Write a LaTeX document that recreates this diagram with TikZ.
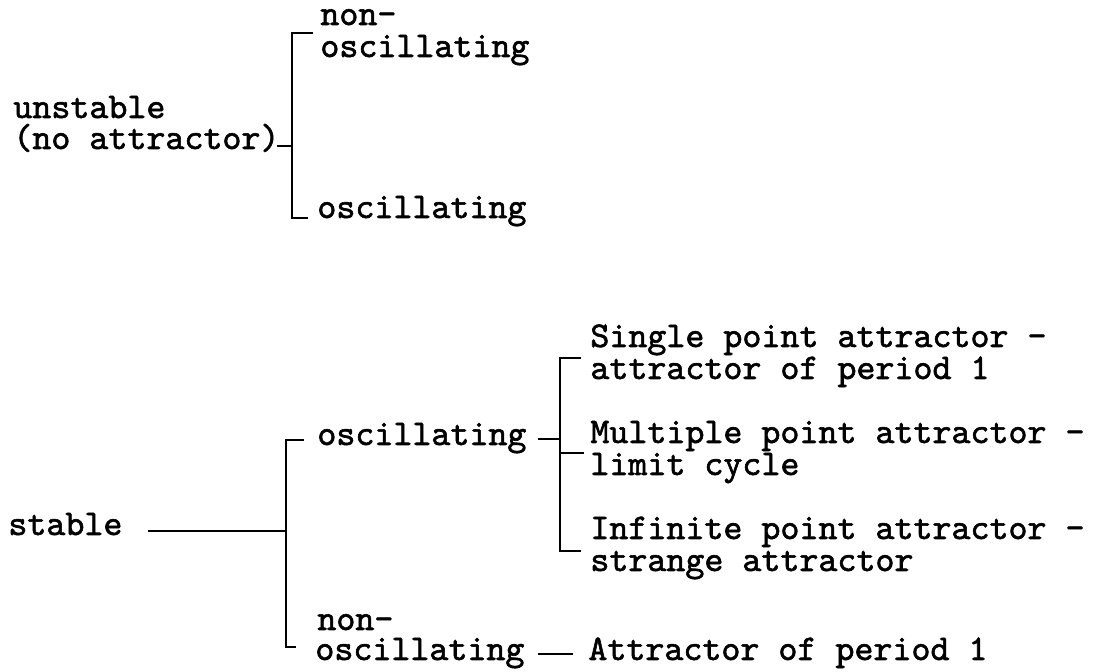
\documentclass[tikz,border=0pt]{standalone}
\usepackage{fontspec}
\newfontfamily\typewriter{lmmono10-regular.otf}[FakeBold=1.6]
\newcommand\twfont{\typewriter\fontsize{18.1}{18}\selectfont}
\usetikzlibrary{calc}
\begin{document}
\begin{tikzpicture}[x=0.5pt,y=-0.5pt,
  txt/.style={anchor=base west,inner sep=0pt,font=\twfont},
  ln/.style={line width=1.3pt,line cap=rect}]
\useasboundingbox (0,0) rectangle (1094,672);
% --- unstable branch
\node[txt] (u1) at (13,118) {unstable};
\node[txt] (u2) at (13,149) {(no attractor)};
\node[txt] (n1a) at (320,25) {non-};
\node[txt] (n1b) at (320,57) {oscillating};
\node[txt] (o1) at (317,218) {oscillating};
\coordinate (b1t) at (292,33);
\coordinate (b1b) at (292,218);
\draw[ln] ([shift={(-8,-24)}]n1b.base west) -- (b1t) -- (b1b) -- ([shift={(-10,0)}]o1.base west);
\coordinate (u2c) at ([shift={(-2,-3)}]u2.base east);
\draw[ln] (u2c) -- (u2c -| b1t);
% --- stable branch
\node[txt] (st) at (8,535) {stable};
\node[txt] (osc) at (317,445) {oscillating};
\node[txt] (nn) at (317,630) {non-};
\node[txt] (nosc) at (315,660) {oscillating};
\node[txt] (s1) at (590,347) {Single point attractor -};
\node[txt] (s2) at (590,379) {attractor of period 1};
\node[txt] (m1) at (590,443) {Multiple point attractor -};
\node[txt] (m2) at (590,475) {limit cycle};
\node[txt] (i1) at (590,539) {Infinite point attractor -};
\node[txt] (i2) at (590,571) {strange attractor};
\node[txt] (ap) at (588,660) {Attractor of period 1};
\coordinate (b2t) at (286,440);
\coordinate (b2b) at (286,647);
\coordinate (stc) at ([shift={(26,-4)}]st.base east);
\draw[ln] (stc) -- (stc -| b2t);
\draw[ln] ([shift={(-14,-5)}]osc.base west) -- (b2t) -- (b2b) -- ([shift={(-20,-13)}]nosc.base west);
\coordinate (b3t) at (560,358);
\coordinate (b3b) at (560,551);
\coordinate (oc) at ([shift={(12,-6)}]osc.base east);
\draw[ln] (oc) -- (oc -| b3t);
\draw[ln] ([shift={(-10,-21)}]s2.base west) -- (b3t) -- (b3b) -- ([shift={(-10,12)}]i1.base west);
\coordinate (mc) at ([shift={(-7,10)}]m1.base west);
\draw[ln] (mc) -- (mc -| b3t);
\coordinate (nc) at ([shift={(14,-6)}]nosc.base east);
\draw[ln] (nc) -- ([shift={(-16,-6)}]ap.base west);
\end{tikzpicture}
\end{document}
